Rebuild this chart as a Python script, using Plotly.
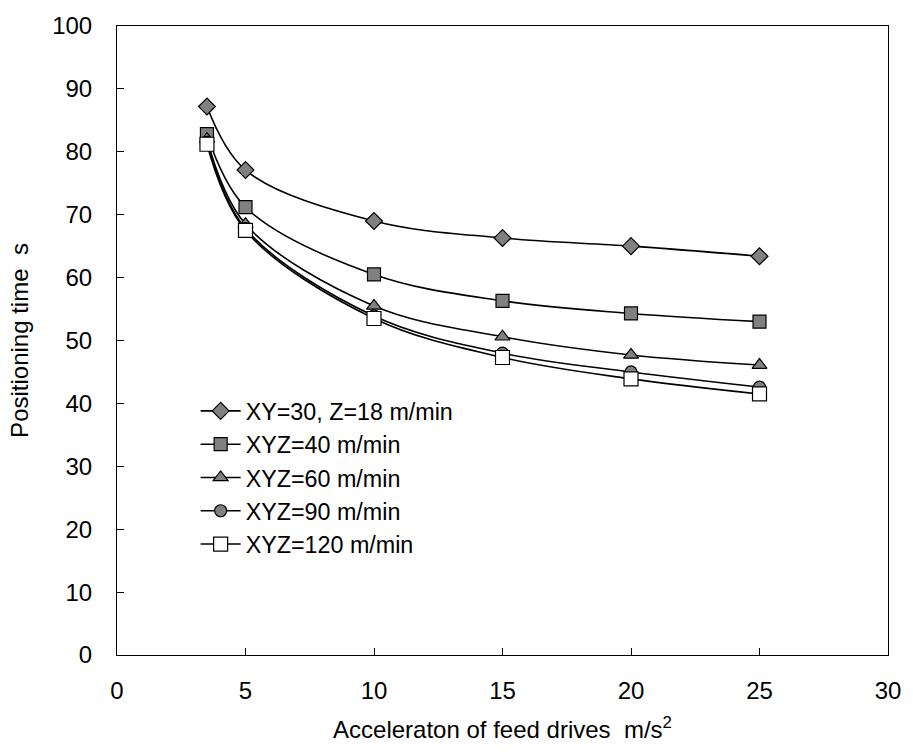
import plotly.graph_objects as go

# Acceleration of the feed drives (m/s^2)
accel = [3.5, 5, 10, 15, 20, 25]

# Positioning time (s) for each rapid-traverse speed
t_xy30_z18 = [87.2, 77.1, 69.0, 66.3, 65.0, 63.4]
t_xyz40 = [82.8, 71.2, 60.5, 56.3, 54.3, 53.0]
t_xyz60 = [82.0, 68.5, 55.5, 50.6, 47.7, 46.1]
t_xyz90 = [81.5, 67.8, 53.9, 48.0, 45.0, 42.6]
t_xyz120 = [81.2, 67.5, 53.5, 47.3, 43.9, 41.5]

series_names = [
    "XY=30, Z=18 m/min",
    "XYZ=40 m/min",
    "XYZ=60 m/min",
    "XYZ=90 m/min",
    "XYZ=120 m/min",
]
series_values = [t_xy30_z18, t_xyz40, t_xyz60, t_xyz90, t_xyz120]

GREY = "#808080"
marker_styles = [
    dict(symbol="diamond", size=13, color=GREY),
    dict(symbol="square", size=13, color=GREY),
    dict(symbol="triangle-up", size=13, color=GREY),
    dict(symbol="circle", size=12, color=GREY),
    dict(symbol="square", size=14, color="white"),
]

fig = go.Figure()
for name, vals, ms in zip(series_names, series_values, marker_styles):
    fig.add_trace(
        go.Scatter(
            x=accel,
            y=vals,
            name=name,
            mode="lines+markers",
            line=dict(color="black", width=1.6, shape="spline", smoothing=1.0),
            marker=dict(
                symbol=ms["symbol"],
                size=ms["size"],
                color=ms["color"],
                line=dict(color="black", width=1.2),
            ),
        )
    )

font_family = "Liberation Sans, Arial, Helvetica, sans-serif"
FS = 24

fig.update_layout(
    width=913,
    height=753,
    margin=dict(l=117, r=23, t=23, b=98),
    paper_bgcolor="white",
    plot_bgcolor="white",
    font=dict(family=font_family, size=FS, color="black"),
    showlegend=True,
    legend=dict(
        x=0.102,
        y=0.4225,
        xanchor="left",
        yanchor="top",
        bgcolor="rgba(0,0,0,0)",
        font=dict(size=23.3, color="black"),
        traceorder="normal",
        itemwidth=40,
    ),
    xaxis=dict(
        range=[0, 30],
        tickvals=[0, 5, 10, 15, 20, 25, 30],
        ticks="inside",
        ticklen=7,
        tickcolor="black",
        showline=True,
        linecolor="black",
        linewidth=1,
        mirror=True,
        showgrid=False,
        zeroline=False,
        ticklabelstandoff=14,
        tickfont=dict(size=FS),
        title=dict(
            text="Acceleraton of feed drives  m/s<sup>2</sup>",
            font=dict(size=FS),
            standoff=18,
        ),
    ),
    yaxis=dict(
        range=[0, 100],
        tickvals=list(range(0, 101, 10)),
        ticks="inside",
        ticklen=7,
        tickcolor="black",
        showline=True,
        linecolor="black",
        linewidth=1,
        mirror=True,
        showgrid=False,
        zeroline=False,
        ticklabelstandoff=19,
        tickfont=dict(size=FS),
        title=dict(text="Positioning time  s", font=dict(size=FS), standoff=16),
    ),
)

fig.write_html("out.html")
